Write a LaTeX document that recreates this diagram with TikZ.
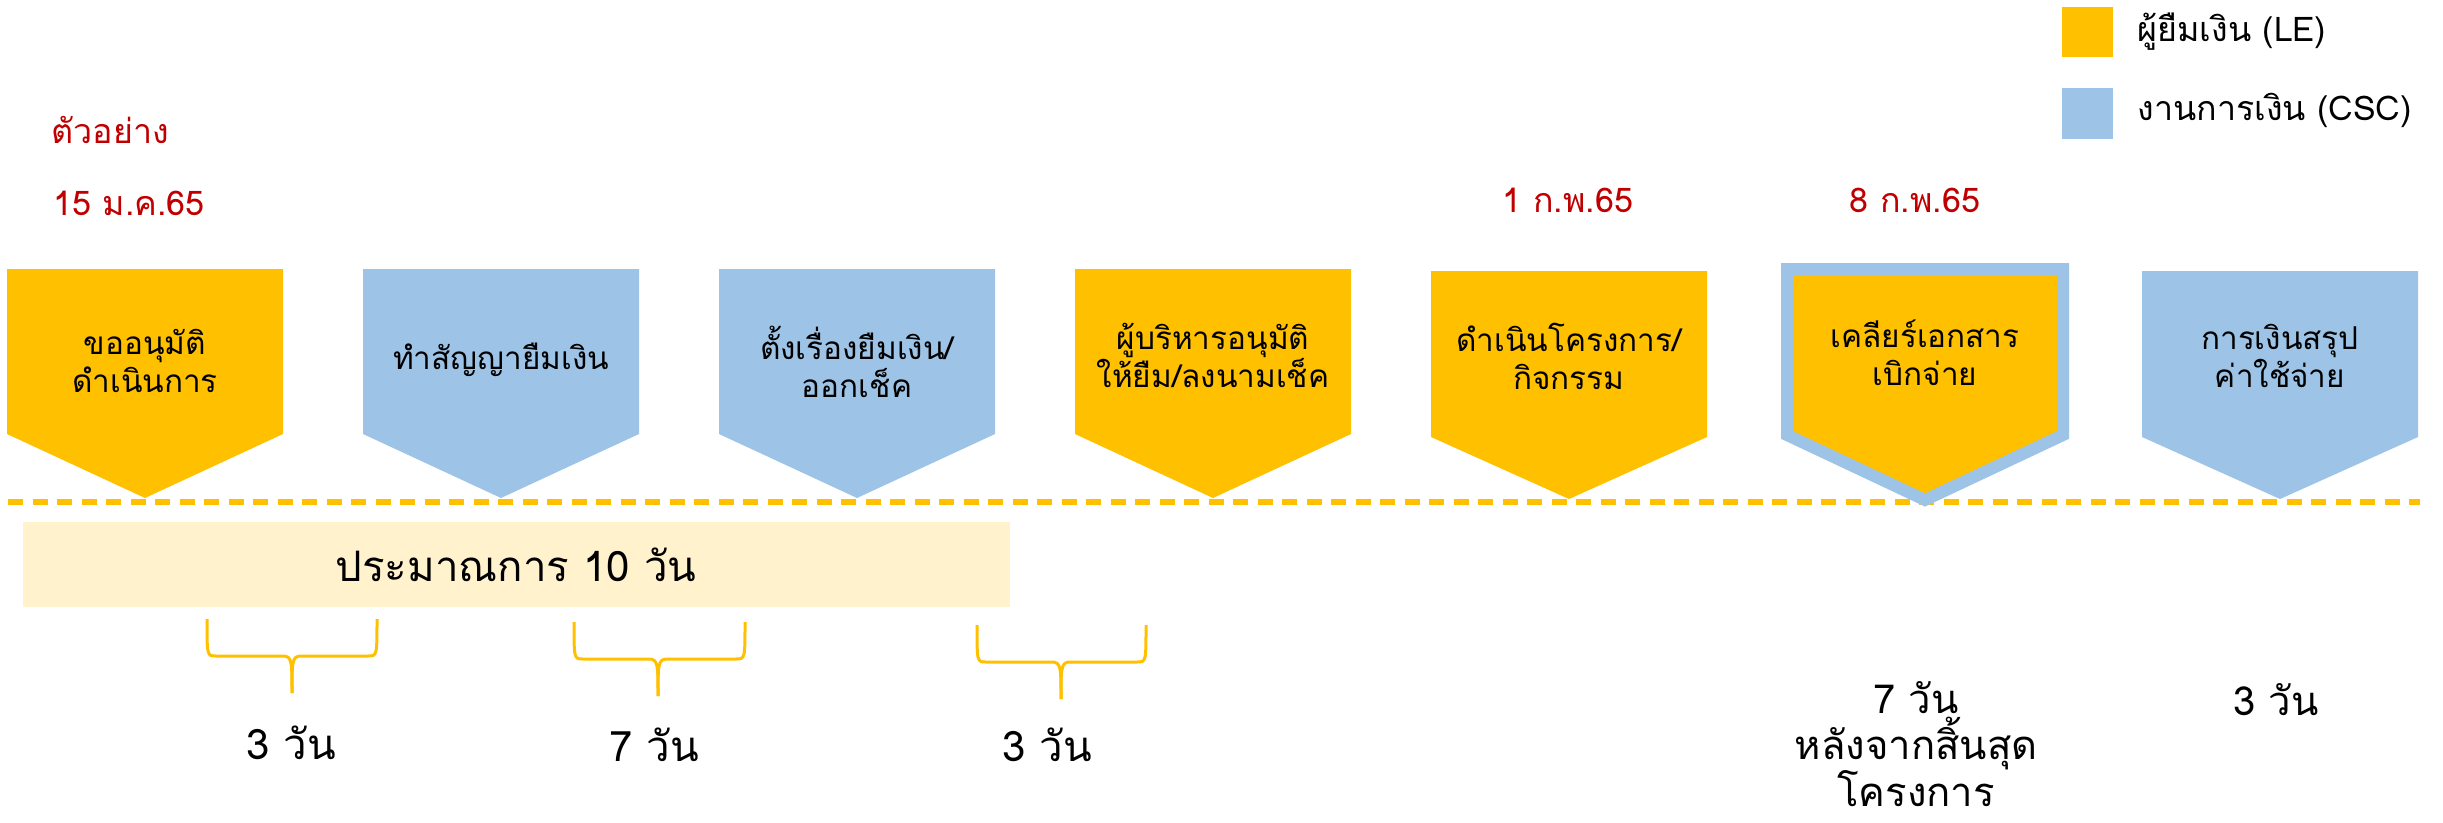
\documentclass[tikz,border=0pt]{standalone}
\usepackage{fontspec}
\newfontfamily\thai[Script=Thai]{Loma}
\definecolor{yel}{HTML}{FFC000}
\definecolor{blu}{HTML}{9DC3E6}
\definecolor{lyel}{HTML}{FFF2CC}
\definecolor{dred}{HTML}{C00000}
\begin{document}
\begin{tikzpicture}[x=1pt,y=-1pt,
  boxtxt/.style={align=center,font=\thai\fontsize{31.5}{38}\selectfont,text=black},
  redtxt/.style={font=\thai\fontsize{34}{40}\selectfont,text=dred},
  legtxt/.style={anchor=west,font=\thai\fontsize{34}{40}\selectfont},
  daytxt/.style={font=\thai\fontsize{42}{50}\selectfont,align=center},
  bracestyle/.style={draw=yel,line width=3pt},
  dashline/.style={draw=yel,line width=5.3pt,dash pattern=on 15pt off 9.5pt}]
\useasboundingbox (0,0) rectangle (2443,822);
% dashed timeline
\coordinate (dl) at (8,502);
\coordinate (dr) at (2420,502);
\draw[dashline] (dl) -- (dr);
% shapes
\fill[yel] (7,269) -- (283,269) -- (283,434) -- (145,498) -- (7,434) -- cycle;
\fill[blu] (363,269) -- (639,269) -- (639,434) -- (501,498) -- (363,434) -- cycle;
\fill[blu] (719,269) -- (995,269) -- (995,434) -- (857,498) -- (719,434) -- cycle;
\fill[yel] (1075,269) -- (1351,269) -- (1351,434) -- (1213,498) -- (1075,434) -- cycle;
\fill[yel] (1431,271) -- (1707,271) -- (1707,437) -- (1569,499) -- (1431,437) -- cycle;
\filldraw[fill=yel,draw=blu,line width=12pt,miter limit=10] (1787,269) -- (2063,269) -- (2063,435) -- (1925,500) -- (1787,435) -- cycle;
\fill[blu] (2142,271) -- (2418,271) -- (2418,437) -- (2280,499) -- (2142,437) -- cycle;
% box texts
\node[boxtxt] (t1) at (145,361) {ขออนุมัติ\\ดำเนินการ};
\node[boxtxt] (t2) at (501,360) {ทำสัญญายืมเงิน};
\node[boxtxt] (t3) at (857,362) {ตั้งเรื่องยืมเงิน/\\ออกเช็ค};
\node[boxtxt] (t4) at (1213,355) {ผู้บริหารอนุมัติ\\ให้ยืม/ลงนามเช็ค};
\node[boxtxt] (t5) at (1569,356) {ดำเนินโครงการ/\\กิจกรรม};
\node[boxtxt] (t6) at (1925,353) {เคลียร์เอกสาร\\เบิกจ่าย};
\node[boxtxt] (t7) at (2280,356) {การเงินสรุป\\ค่าใช้จ่าย};
% legend
\fill[yel] (2062,7) rectangle (2113,57);
\fill[blu] (2062,88) rectangle (2113,139);
\node[legtxt] (l1) at (2134,32) {ผู้ยืมเงิน (LE)};
\node[legtxt] (l2) at (2134,110) {งานการเงิน (CSC)};
% red labels
\node[redtxt,anchor=west] (r0) at (48,130) {ตัวอย่าง};
\node[redtxt,anchor=west] (r1) at (50,203) {15 ม.ค.65};
\node[redtxt] (r2) at (1568,200) {1 ก.พ.65};
\node[redtxt] (r3) at (1915,200) {8 ก.พ.65};
% estimate bar
\fill[lyel] (23,522) rectangle (1010,607);
\node[font=\thai\fontsize{42}{48}\selectfont] (est) at (516,565) {ประมาณการ 10 วัน};
% braces
\draw[bracestyle] (207,619) .. controls (207,656) and (207,656) .. (216,656) -- (283,656) .. controls (292,656) and (292,662) .. (292,693);
\draw[bracestyle] (377,619) .. controls (377,656) and (377,656) .. (368,656) -- (301,656) .. controls (292,656) and (292,662) .. (292,693);
\draw[bracestyle] (574,622) .. controls (574,659) and (574,659) .. (583,659) -- (649,659) .. controls (658,659) and (658,665) .. (658,696);
\draw[bracestyle] (745,622) .. controls (745,659) and (745,659) .. (736,659) -- (667,659) .. controls (658,659) and (658,665) .. (658,696);
\draw[bracestyle] (977,625) .. controls (977,662) and (977,662) .. (986,662) -- (1052,662) .. controls (1061,662) and (1061,668) .. (1061,699);
\draw[bracestyle] (1146,625) .. controls (1146,662) and (1146,662) .. (1137,662) -- (1070,662) .. controls (1061,662) and (1061,668) .. (1061,699);
% day labels
\node[daytxt] (d1) at (291,743) {3 วัน};
\node[daytxt] (d2) at (654,745) {7 วัน};
\node[daytxt] (d3) at (1047,745) {3 วัน};
\node[daytxt,inner sep=0pt,font=\thai\fontsize{40}{46}\selectfont] (d4) at (1916,744) {7 วัน\\หลังจากสิ้นสุด\\โครงการ};
\node[daytxt,font=\thai\fontsize{40}{46}\selectfont] (d5) at (2276,700) {3 วัน};
\end{tikzpicture}
\end{document}
